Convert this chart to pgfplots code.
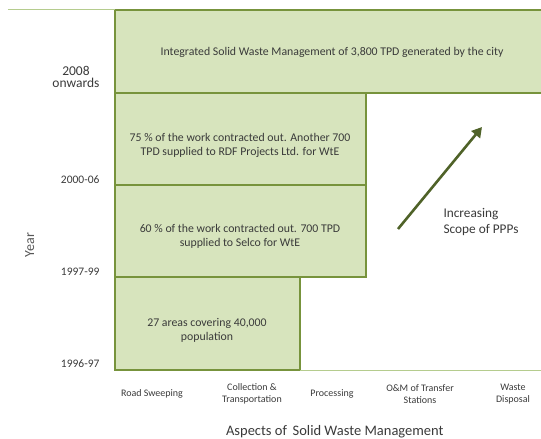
\documentclass[border=0pt]{standalone}
\usepackage{pgfplots}
\pgfplotsset{compat=1.18}
\usepackage{fontspec}
\setmainfont{Carlito}
\usetikzlibrary{arrows.meta}
\definecolor{boxfill}{HTML}{D7E4BD}
\definecolor{boxline}{HTML}{77933C}
\definecolor{lightline}{HTML}{B5CC8E}
\definecolor{arrowc}{HTML}{4F6228}
\definecolor{txt}{HTML}{3A3A3A}
\newcommand\bx{\fontsize{11.8}{14}\selectfont}
\newcommand\yl{\fontsize{11.5}{14}\selectfont}
\newcommand\yb{\fontsize{13.5}{15}\selectfont}
\begin{document}
\begin{tikzpicture}
\path[use as bounding box] (-115pt,-69pt) rectangle (426pt,370pt);
\begin{axis}[
  at={(0pt,0pt)}, anchor=south west,
  scale only axis, width=426pt, height=360pt,
  xmin=115, xmax=541, ymin=69, ymax=429,
  clip=false,
  axis line style={draw=none},
  major tick length=0pt,
  xtick={152,252,332,420,513},
  xticklabels={Road Sweeping,{Collection \&\\Transportation},Processing,{O\&M of Transfer\\Stations},{Waste\\Disposal}},
  xticklabel style={align=center, anchor=center, yshift=-24pt, font=\fontsize{10}{12}\selectfont, text=txt},
  ytick={75,167,259,362},
  yticklabels={{\yl 1996-97},{\yl 1997-99},{\yl 2000-06},{\yb 2008\\\yb onwards}},
  yticklabel style={align=center, anchor=east, xshift=-12pt, text=txt},
  xlabel={Aspects of\, Solid Waste Management},
  xlabel style={at={(axis description cs:0.516,-0.172)}, anchor=center, font=\fontsize{14.5}{16}\selectfont, text=txt},
  ylabel={Year},
  ylabel style={at={(axis description cs:-0.2,0.347)}, anchor=center, font=\fontsize{14}{16}\selectfont, text=txt!85},
]
% blocks
\addplot[fill=boxfill, draw=boxline, line width=1.2pt] coordinates {(115,69) (300,69) (300,162) (115,162)} -- cycle;
\addplot[fill=boxfill, draw=boxline, line width=1.2pt] coordinates {(115,162) (366,162) (366,254) (115,254)} -- cycle;
\addplot[fill=boxfill, draw=boxline, line width=1.2pt] coordinates {(115,254) (366,254) (366,346) (115,346)} -- cycle;
\addplot[fill=boxfill, draw=boxline, line width=1.2pt] coordinates {(115,346) (545,346) (545,429) (115,429)} -- cycle;
% frame lines
\addplot[draw=lightline, line width=1pt] coordinates {(300,69) (541,69)};
\addplot[draw=lightline, line width=1pt] coordinates {(8,429) (115,429)};
% arrow
\addplot[draw=arrowc, line width=2.6pt, -{Triangle[length=10pt,width=11pt]}] coordinates {(398,210) (482,312)};
% texts
\node[text=txt, font=\bx] at (axis cs:332,387) {Integrated Solid Waste Management of 3,800 TPD generated by the city};
\node[text=txt, align=center, font=\bx] at (axis cs:240,294) {75 \% of the work contracted out. Another 700\\TPD supplied to RDF Projects Ltd. for WtE};
\node[text=txt, align=center, font=\bx] at (axis cs:240,203) {60 \% of the work contracted out. 700 TPD\\supplied to Selco for WtE};
\node[text=txt, align=center, font=\bx] at (axis cs:207,109) {27 areas covering 40,000\\population};
\node[text=txt, align=left, anchor=west, font=\fontsize{13.3}{15.5}\selectfont] at (axis cs:440,217) {Increasing\\Scope of PPPs};
\end{axis}
\end{tikzpicture}
\end{document}
